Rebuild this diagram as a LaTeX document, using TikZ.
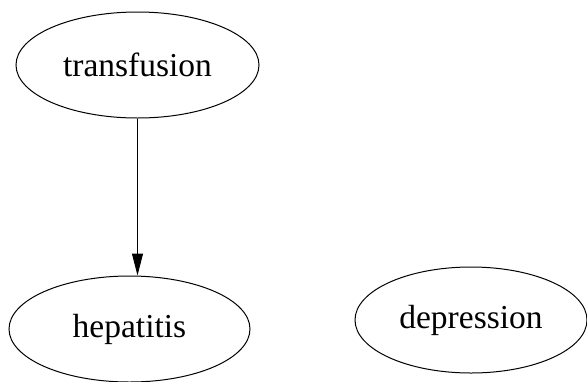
\documentclass[tikz,border=0pt]{standalone}
\usepackage{fontspec}
\setmainfont{Liberation Serif}
\usepackage{tikz}
\usetikzlibrary{arrows.meta,shapes}
\tikzstyle{vertex}=[ellipse,draw,line width=1pt,minimum height=106pt,inner sep=0pt,font=\fontsize{33.5}{40}\selectfont]
\tikzstyle{edge} = [draw,line width=1pt,-{Triangle[length=22pt,width=11pt]}]

\begin{document}
\begin{tikzpicture}[x=1pt,y=-1pt]
    \useasboundingbox (0,0) rectangle (587,381);

    \foreach \pos/ \name/ \size in {{(137.5,65)/transfusion/243},{(129.5,329)/hepatitis/241},{(471,320)/depression/232}}
        \node[vertex,minimum width=\size pt] (\name) at \pos {\name};

    % transfusion -> hepatitis
    \path[edge] (transfusion.south) -- (transfusion.south |- hepatitis.north);

\end{tikzpicture}
\end{document}
